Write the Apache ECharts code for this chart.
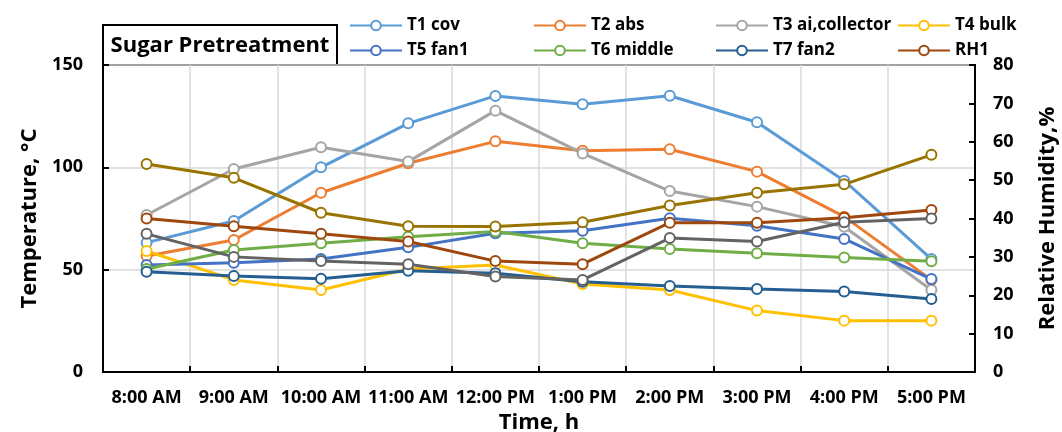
<!DOCTYPE html>
<html>
<head>
<meta charset="utf-8">
<script src="https://cdn.jsdelivr.net/npm/echarts@6/dist/echarts.min.js"></script>
<style>
html,body{margin:0;padding:0;background:#fff;}
#chart{width:1062px;height:432px;}
</style>
</head>
<body>
<div id="chart"></div>
<script>
var categories = ['8:00 AM','9:00 AM','10:00 AM','11:00 AM','12:00 PM','1:00 PM','2:00 PM','3:00 PM','4:00 PM','5:00 PM'];
var tempTicks = [0, 50, 100, 150];
var rhTicks = [0, 10, 20, 30, 40, 50, 60, 70, 80];

var t1cov = [63.2, 73.8, 100.0, 121.5, 134.9, 130.8, 135.0, 122.0, 93.5, 55.2];
var t2abs = [56.7, 64.5, 87.6, 102.0, 112.7, 108.1, 108.8, 97.9, 75.9, 45.0];
var t3collector = [76.7, 99.2, 109.8, 102.8, 127.7, 106.8, 88.4, 80.8, 71.0, 40.1];
var t4bulk = [59.1, 45.0, 40.1, 50.3, 52.3, 43.0, 40.1, 30.0, 25.1, 25.1];
var t5fan1 = [52.3, 53.4, 55.2, 60.9, 67.8, 69.0, 75.1, 71.5, 65.0, 45.4];
var t6middle = [50.3, 59.6, 62.9, 66.1, 68.6, 62.9, 60.1, 58.0, 55.9, 54.1];
var t7fan2 = [49.0, 46.9, 45.6, 49.5, 48.2, 44.1, 42.0, 40.6, 39.3, 35.7];
var rh1 = [40.0, 38.0, 36.0, 34.0, 28.9, 28.1, 38.9, 38.9, 40.2, 42.2];
var rh2 = [54.2, 50.6, 41.5, 38.0, 37.9, 39.0, 43.4, 46.7, 48.9, 56.6];
var rh3 = [36.0, 30.0, 28.9, 28.1, 24.9, 24.0, 34.9, 34.0, 39.0, 40.0];

var FONT = '"Open Sans", "Liberation Sans", sans-serif';

function mk(name, data, color, yIdx) {
  return {
    name: name, type: 'line', data: data, yAxisIndex: yIdx,
    symbol: 'emptyCircle', symbolSize: 10,
    lineStyle: {color: color, width: 3},
    itemStyle: {color: color, borderColor: color, borderWidth: 2.5},
    emphasis: {disabled: true},
    animation: false
  };
}

var legendText = {fontFamily: FONT, fontWeight: 'bold', fontSize: 17, color: '#000'};
function lg(items, left) {
  return {
    data: items, orient: 'vertical', left: left, top: 12,
    itemWidth: 52, itemHeight: 12, itemGap: 8,
    textStyle: legendText, selectedMode: false
  };
}

var chart = echarts.init(document.getElementById('chart'), null, {renderer: 'canvas'});
chart.setOption({
  backgroundColor: '#fff',
  animation: false,
  grid: {left: 103, right: 87, top: 65, bottom: 60, show: true, borderColor: '#000', borderWidth: 2, backgroundColor: 'transparent', containLabel: false, outerBoundsMode: 'none'},
  legend: [
    lg(['T1 cov', 'T5 fan1'], 344),
    lg(['T2 abs', 'T6 middle'], 528),
    lg(['T3 ai,collector', 'T7 fan2'], 710),
    lg(['T4 bulk', 'RH1'], 892)
  ],
  graphic: [{
    type: 'group', z: 100,
    children: [
      {type: 'rect', shape: {x: 103, y: 25, width: 234, height: 40}, style: {fill: '#fff', stroke: '#000', lineWidth: 2}},
      {type: 'text', x: 220, y: 46, style: {text: 'Sugar Pretreatment', fontFamily: FONT, fontWeight: 'bold', fontSize: 22, fill: '#000', align: 'center', verticalAlign: 'middle'}}
    ]
  }],
  xAxis: {
    type: 'category', data: categories, boundaryGap: true,
    axisLine: {show: true, lineStyle: {color: '#000', width: 2}},
    axisTick: {show: true, inside: true, length: 6, lineStyle: {color: '#000', width: 2}},
    splitLine: {show: true, lineStyle: {color: '#d9d9d9', width: 1.5}},
    axisLabel: {interval: 0, margin: 17, fontFamily: FONT, fontWeight: 'bold', fontSize: 18, color: '#000'},
    name: 'Time, h', nameLocation: 'middle', nameGap: 40,
    nameTextStyle: {fontFamily: FONT, fontWeight: 'bold', fontSize: 22, color: '#000'}
  },
  yAxis: [{
    type: 'value', min: tempTicks[0], max: tempTicks[tempTicks.length - 1], interval: tempTicks[1] - tempTicks[0],
    position: 'left',
    axisLine: {show: true, lineStyle: {color: '#000', width: 2}},
    axisTick: {show: true, inside: true, length: 6, lineStyle: {color: '#000', width: 2}},
    splitLine: {show: true, lineStyle: {color: '#d9d9d9', width: 1.5}},
    axisLabel: {margin: 20, fontFamily: FONT, fontWeight: 'bold', fontSize: 18, color: '#000'},
    name: 'Temperature, °C', nameLocation: 'middle', nameGap: 62,
    nameTextStyle: {fontFamily: FONT, fontWeight: 'bold', fontSize: 22, color: '#000'}
  }, {
    type: 'value', min: rhTicks[0], max: rhTicks[rhTicks.length - 1], interval: rhTicks[1] - rhTicks[0],
    position: 'right',
    axisLine: {show: true, lineStyle: {color: '#000', width: 2}},
    axisTick: {show: true, inside: true, length: 6, lineStyle: {color: '#000', width: 2}},
    splitLine: {show: false},
    axisLabel: {margin: 18, fontFamily: FONT, fontWeight: 'bold', fontSize: 18, color: '#000'},
    name: 'Relative Humidity,%', nameLocation: 'middle', nameGap: 62,
    nameTextStyle: {fontFamily: FONT, fontWeight: 'bold', fontSize: 22, color: '#000'}
  }],
  series: [
    mk('T1 cov', t1cov, '#5B9BD5', 0),
    mk('T2 abs', t2abs, '#ED7D31', 0),
    mk('T3 ai,collector', t3collector, '#A5A5A5', 0),
    mk('T4 bulk', t4bulk, '#FFC000', 0),
    mk('T5 fan1', t5fan1, '#4472C4', 0),
    mk('T6 middle', t6middle, '#70AD47', 0),
    mk('T7 fan2', t7fan2, '#255E91', 0),
    mk('RH1', rh1, '#9E480E', 1),
    mk('RH2', rh2, '#997300', 1),
    mk('RH3', rh3, '#636363', 1)
  ]
});
</script>
</body>
</html>
